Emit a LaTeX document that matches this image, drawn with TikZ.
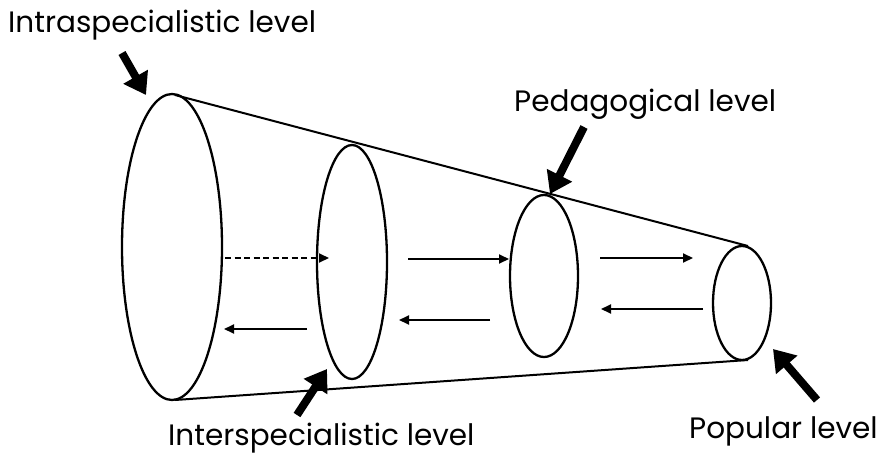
\documentclass[tikz,border=0pt]{standalone}
\usepackage{fontspec}
\setmainfont{Poppins}
\usetikzlibrary{arrows.meta,shapes.geometric}
\begin{document}
\begin{tikzpicture}[x=1pt,y=-1pt,
  level/.style={ellipse,draw,line width=2.3pt,inner sep=0pt},
  cone/.style={line width=2pt},
  flow/.style={line width=2pt,-{Triangle[length=10pt,width=9pt]}},
  pointer/.style={line width=8pt,-{Triangle[length=21pt,width=27pt]}},
  lab/.style={font=\fontsize{29.5}{34}\selectfont,inner sep=0pt}]
\useasboundingbox (0,0) rectangle (885,457);
% levels
\node[level,minimum width=100pt,minimum height=306pt] (e1) at (172,247) {};
\node[level,minimum width=70pt,minimum height=234pt] (e2) at (352,262) {};
\node[level,minimum width=68pt,minimum height=162pt] (e3) at (544,276) {};
\node[level,minimum width=58pt,minimum height=114pt] (e4) at (742,303) {};
% cone
\coordinate (t1) at (175,95);
\coordinate (t4) at (748,246);
\coordinate (b1) at (175,400);
\coordinate (b4) at (748,360);
\draw[cone] (t1) -- (t4);
\draw[cone] (b1) -- (b4);
% flows
\coordinate (d1s) at (225,258); \coordinate (d1e) at (329,258);
\draw[flow,dash pattern=on 6pt off 3.5pt] (d1s) -- (d1e);
\coordinate (l1s) at (307,329); \coordinate (l1e) at (224,329);
\draw[flow] (l1s) -- (l1e);
\coordinate (r2s) at (408,259); \coordinate (r2e) at (509,259);
\draw[flow] (r2s) -- (r2e);
\coordinate (l2s) at (490,320); \coordinate (l2e) at (399,320);
\draw[flow] (l2s) -- (l2e);
\coordinate (r3s) at (600,258); \coordinate (r3e) at (693,258);
\draw[flow] (r3s) -- (r3e);
\coordinate (l3s) at (703,309); \coordinate (l3e) at (601,309);
\draw[flow] (l3s) -- (l3e);
% labels
\node[lab,anchor=base west] (intra) at (8,33) {Intraspecialistic level};
\node[lab,anchor=base west] (peda) at (514,112) {Pedagogical level};
\node[lab,anchor=base west] (inter) at (168,445) {Interspecialistic level};
\node[lab,anchor=base west] (pop) at (689,438) {Popular level};
% pointers
\coordinate (p1s) at (122,53); \coordinate (p1e) at (146,95);
\draw[pointer] (p1s) -- (p1e);
\coordinate (p2s) at (584,127); \coordinate (p2e) at (550,194);
\draw[pointer] (p2s) -- (p2e);
\coordinate (p3s) at (297,415); \coordinate (p3e) at (327,369);
\draw[pointer] (p3s) -- (p3e);
\coordinate (p4s) at (817,400); \coordinate (p4e) at (773,349);
\draw[pointer] (p4s) -- (p4e);
\end{tikzpicture}
\end{document}
